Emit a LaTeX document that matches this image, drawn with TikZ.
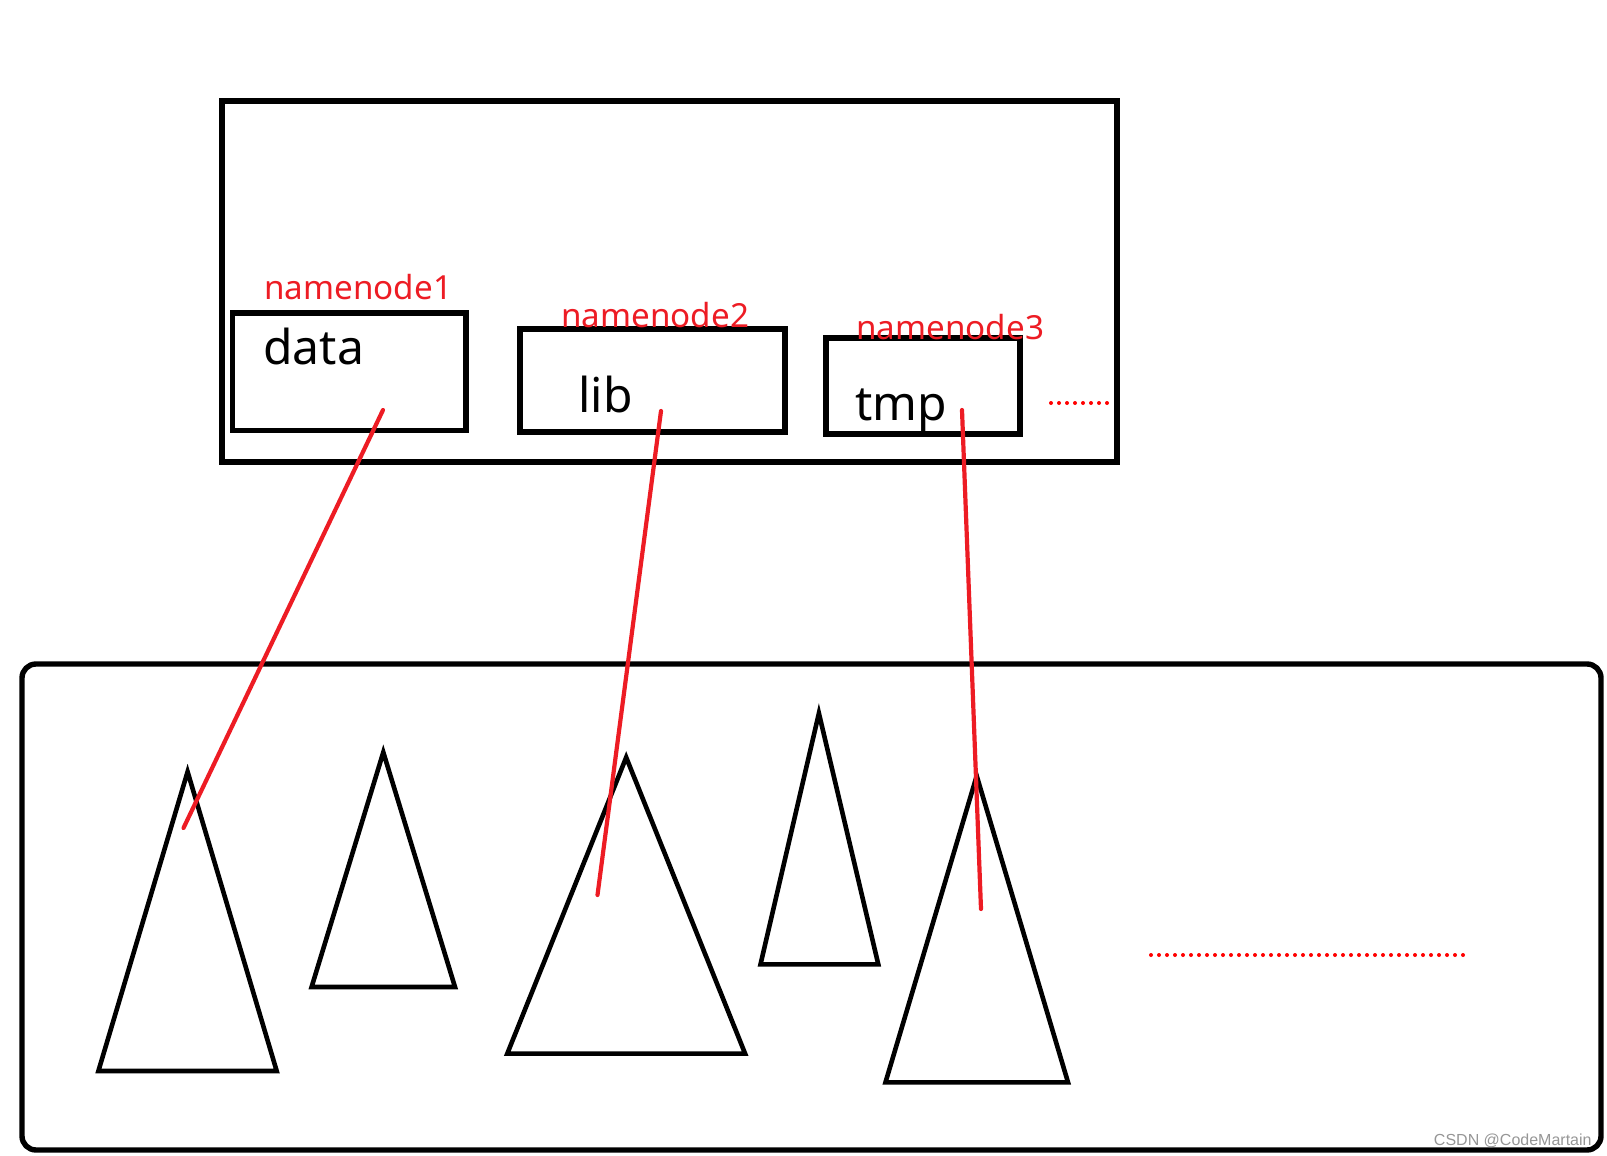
\documentclass[tikz,border=0pt]{standalone}
\usepackage{fontspec}
\setmainfont{Noto Sans}
\newfontfamily\markfont{Liberation Sans}
\definecolor{linkred}{RGB}{237,28,36}
\definecolor{markgray}{RGB}{150,150,150}
\tikzset{
  dirbox/.style={draw, line width=2.7pt, inner sep=0pt, outer sep=0pt, anchor=north west},
  word/.style={inner sep=0pt, anchor=base west, font=\fontsize{24}{28}\selectfont},
  nnlabel/.style={inner sep=0pt, anchor=base west, text=linkred, font=\fontsize{16.6}{19}\selectfont},
  link/.style={linkred, line width=2.1pt, line cap=round},
  tri/.style={line width=2.3pt, line join=miter},
  moredots/.style={red, line width=2pt, line cap=round, dash pattern=on 0pt off 4pt}
}
\begin{document}
\begin{tikzpicture}[x=0.5pt, y=-0.5pt]
\useasboundingbox (0,0) rectangle (1607,1156);
% outer frames
\draw[line width=2.7pt] (222,101) rectangle (1117,462);
\draw[line width=2.7pt, rounded corners=7pt] (22,664) rectangle (1601,1150);
% namenodes with their dirs
\node[dirbox, minimum width=116.7pt, minimum height=58.8pt] (data) at (232.7,313) {};
\node[dirbox, minimum width=132.5pt, minimum height=51.5pt] (lib) at (520,329) {};
\node[dirbox, minimum width=97pt, minimum height=48pt] (tmp) at (826,338) {};
\node[word] (datatext) at (263,364) {data};
\node[word] (libtext) at (578,412) {lib};
\node[word] (tmptext) at (855,420) {tmp};
\node[nnlabel] (nn1) at (264,299) {namenode1};
\node[nnlabel] (nn2) at (561,327) {namenode2};
\node[nnlabel] (nn3) at (856,339) {namenode3};
\draw[moredots] (1051,403) -- (1107,403);
% trees
\draw[tri] (187.6,771.8) -- (276.7,1071) -- (98.4,1071) -- cycle;
\draw[tri] (383.3,752.3) -- (455,987) -- (311.6,987) -- cycle;
\draw[tri] (626.2,757.4) -- (745.1,1053.6) -- (507.3,1053.6) -- cycle;
\draw[tri] (818.9,713.3) -- (878.3,964.4) -- (760.5,964.4) -- cycle;
\draw[tri] (976.7,775.9) -- (1068,1082.3) -- (885.5,1082.3) -- cycle;
\draw[moredots] (1151,955) -- (1463,955);
% links
\coordinate (data-in) at (383,410);
\coordinate (lib-in) at (661,411);
\coordinate (tmp-in) at (962,410);
\coordinate (tree1-in) at (183.5,828);
\coordinate (tree3-in) at (597.5,895);
\coordinate (tree5-in) at (981,909);
\draw[link] (data-in) -- (tree1-in);
\draw[link] (lib-in) -- (tree3-in);
\draw[link] (tmp-in) -- (tree5-in);
\node[inner sep=0pt, anchor=base east, text=markgray, font=\markfont\fontsize{8}{9}\selectfont] (mark) at (1592,1145) {CSDN @CodeMartain};
\end{tikzpicture}
\end{document}
